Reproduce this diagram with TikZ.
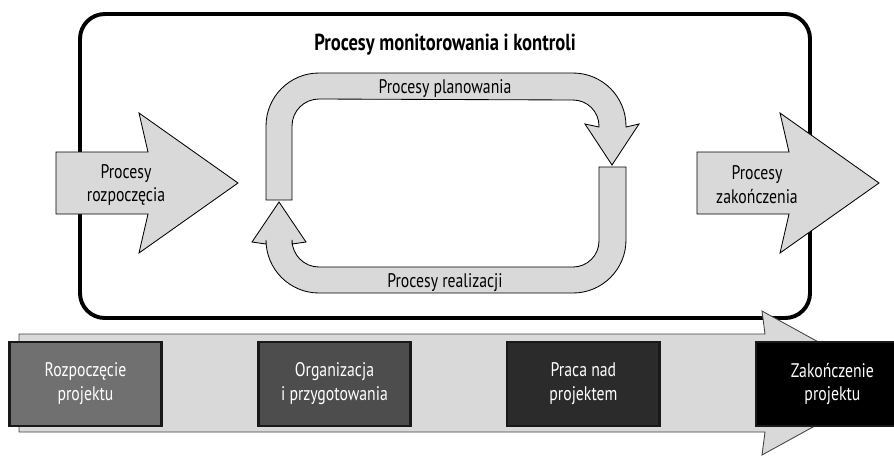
\documentclass[tikz,border=0pt]{standalone}
\usepackage{fontspec}
\setsansfont{PT Sans}[FakeStretch=0.8]
\usetikzlibrary{positioning}
\definecolor{bandgray}{HTML}{D9D9D9}
\definecolor{stageA}{HTML}{707070}
\definecolor{stageB}{HTML}{4D4D4D}
\definecolor{stageC}{HTML}{2B2B2B}

\begin{document}
\begin{tikzpicture}[
x=0.025cm, y=-0.025cm,
font=\sffamily\fontsize{14}{17}\selectfont,
band/.style={draw=black,fill=bandgray,line width=0.6pt,line join=miter},
monframe/.style={draw=black,line width=2.8pt,rounded corners=0.62cm},
proctext/.style={align=center,inner sep=0pt},
stage/.style={rectangle,draw=black!90,line width=1.5pt,text=white,align=center,
  minimum width=3.8cm,minimum height=2.12cm,inner sep=0pt,node distance=2.37cm}
]
\clip (0,0) rectangle (894,455);

% ramka monitorowania
\draw[monframe] (80,14) rectangle (810,318);
\node[font=\sffamily\bfseries\fontsize{16.5}{20}\selectfont] (title) at (445,45) {Procesy monitorowania i kontroli};

% strzalki wejscia i wyjscia
\draw[band] (56,152) -- (148,152) -- (139,113) -- (238,183) -- (139,253) -- (148,214) -- (56,214) -- cycle;
\draw[band] (697,152) -- (789,152) -- (780,113) -- (879,183) -- (780,253) -- (789,214) -- (697,214) -- cycle;
\node[proctext] (rozp) at (126,185) {Procesy\\rozpoczęcia};
\node[proctext] (zak) at (757,185) {Procesy\\zakończenia};

% cykl planowania i realizacji
\draw[band] (266,200) -- (266,126) arc[start angle=180,end angle=270,radius=53]
  -- (573,73) arc[start angle=270,end angle=360,radius=53]
  -- (626,127) -- (639,124) -- (612,165) -- (585,124) -- (599,127)
  -- (599,126) arc[start angle=0,end angle=-90,radius=26]
  -- (319,99) arc[start angle=270,end angle=180,radius=27] -- (292,200) -- cycle;
\draw[band] (599,167) -- (626,167) -- (626,240) arc[start angle=0,end angle=90,radius=53]
  -- (319,293) arc[start angle=90,end angle=180,radius=53]
  -- (266,244) -- (252,242) -- (279,202) -- (306,242) -- (292,244)
  -- (292,240) arc[start angle=180,end angle=90,radius=27]
  -- (573,267) arc[start angle=90,end angle=0,radius=26] -- cycle;
\node[proctext,anchor=base] (plan) at (445,93) {Procesy planowania};
\node[proctext,anchor=base] (real) at (445,287) {Procesy realizacji};

% os czasu projektu
\draw[band,draw=black!75] (19,334) -- (765,334) -- (762,311) -- (893,383) -- (762,455) -- (765,432) -- (19,432) -- cycle;
\node[stage,fill=stageA] (start) at (85.5,384) {Rozpoczęcie\\projektu};
\node[stage,fill=stageB,right=of start] (prep) {Organizacja\\i przygotowania};
\node[stage,fill=stageC,right=of prep] (work) {Praca nad\\projektem};
\node[stage,fill=black,right=of work] (finish) {Zakończenie\\projektu};

\end{tikzpicture}
\end{document}
